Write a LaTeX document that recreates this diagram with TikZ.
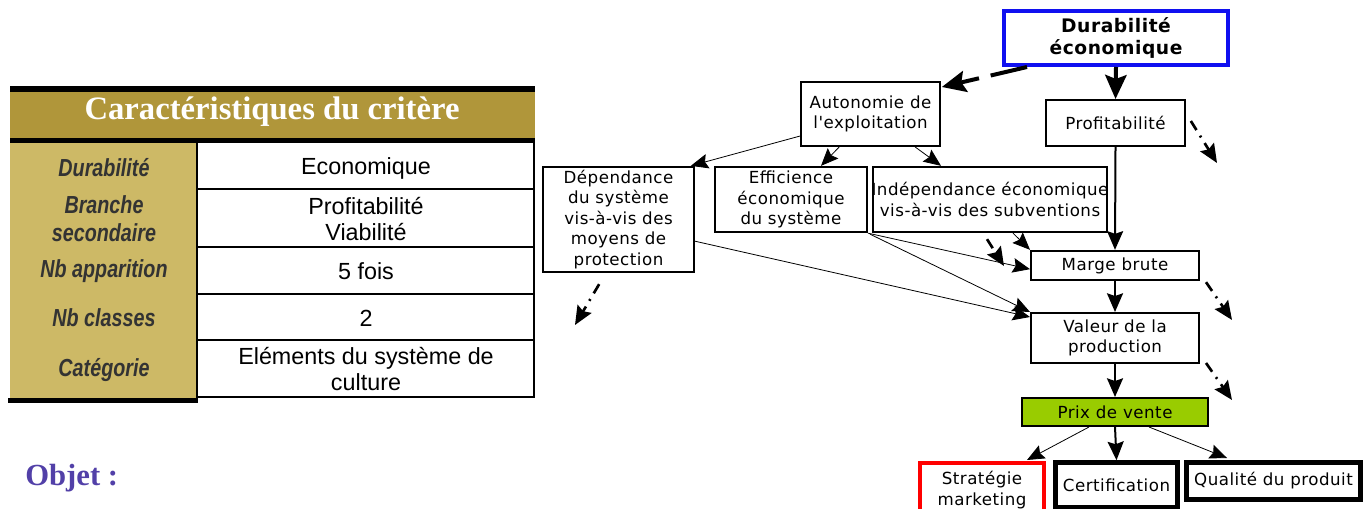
\documentclass[tikz,border=0pt]{standalone}
\usepackage{fontspec}
\setmainfont{Liberation Serif}
\newfontfamily\arialf{Liberation Sans}
\newfontfamily\narrowf[FakeStretch=0.8]{Liberation Sans}
\newfontfamily\dvs[LetterSpace=3]{DejaVu Sans}
\usetikzlibrary{arrows.meta,calc}
\definecolor{goldA}{RGB}{176,150,58}
\definecolor{goldB}{RGB}{205,185,102}
\definecolor{objcol}{RGB}{82,64,168}
\definecolor{boxblue}{RGB}{16,16,240}
\definecolor{prixgreen}{RGB}{153,204,0}
\definecolor{labgray}{RGB}{51,51,51}
\tikzset{
  box/.style={draw, line width=1.5pt, fill=white, inner sep=0pt, align=center,
    font=\dvs\fontsize{12.5}{15.4}\selectfont},
  thinarr/.style={-{Stealth[length=13pt,width=11pt,inset=2pt]}, line width=0.6pt},
  medarr/.style={-{Stealth[length=14pt,width=12pt,inset=2pt]}, line width=1.5pt},
  thickarr/.style={-{Stealth[length=18pt,width=16pt,inset=3pt]}, line width=3pt},
  ddarr/.style={-{Stealth[length=14pt,width=12pt,inset=2pt]}, line width=2pt,
    dash pattern=on 8pt off 5pt on 1.5pt off 5pt},
  lefttxt/.style={text=labgray, align=center, inner sep=0pt,
    font=\narrowf\bfseries\itshape\fontsize{18.5}{21}\selectfont},
  righttxt/.style={text=black, align=center, inner sep=0pt,
    font=\arialf\fontsize{17.5}{20}\selectfont}
}
\begin{document}
\begin{tikzpicture}[x=0.75pt,y=-0.75pt]
\useasboundingbox (0,0) rectangle (1369,509);
% ---------- table ----------
\fill[black] (10,86) rectangle (535,92);
\fill[goldA] (10,92) rectangle (535,138);
\fill[black] (10,138) rectangle (535,143);
\fill[goldB] (10,143) rectangle (197,398);
\fill[white] (197,143) rectangle (535,398);
\foreach \yy in {189,247,294,340,397}{
  \draw[line width=1.3pt] (197,\yy) -- (535,\yy);
}
\draw[line width=1.5pt] (534,143) -- (534,398);
\draw[line width=2pt] (197,143) -- (197,403);
\fill[black] (8,398) rectangle (197,403);
\node[text=white, font=\bfseries\fontsize{24.5}{28}\selectfont, inner sep=0pt] (title) at (272,112) {Caractéristiques du critère};
\node[lefttxt] (l1) at (104,168) {Durabilité};
\node[lefttxt] (l2) at (104,219) {Branche\\secondaire};
\node[lefttxt] (l3) at (104,271) {Nb apparition};
\node[lefttxt] (l4) at (104,318) {Nb classes};
\node[lefttxt] (l5) at (104,370) {Catégorie};
\node[righttxt] (r1) at (366,168) {Economique};
\node[righttxt] (r2) at (366,219) {Profitabilité\\Viabilité};
\node[righttxt] (r3) at (366,271) {5 fois};
\node[righttxt] (r4) at (366,318) {2};
\node[righttxt] (r5) at (366,369) {Eléments du système de\\culture};
\node[text=objcol, font=\bfseries\fontsize{23}{26}\selectfont, inner sep=0pt, anchor=west] (objet) at (25,478) {Objet :};
% ---------- diagram ----------
\node[box, draw=boxblue, line width=3pt, minimum width=168pt, minimum height=40.5pt,
  font=\dvs\bfseries\fontsize{14}{17}\selectfont] (dur) at (1116,38) {Durabilité\\économique};
\node[box, minimum width=104pt, minimum height=48pt] (aut) at (870.5,114) {Autonomie de\\l'exploitation};
\node[box, minimum width=104pt, minimum height=34.5pt] (prof) at (1115.5,123) {Profitabilité};
\node[box, minimum width=113pt, minimum height=79pt] (dep) at (618.5,219.5) {Dépendance\\du système\\vis-à-vis des\\moyens de\\protection};
\node[box, minimum width=114pt, minimum height=49pt] (eff) at (791,199.5) {Efficience\\économique\\du système};
\node[box, minimum width=175.5pt, minimum height=49pt] (ind) at (990,199.5) {\makebox[0pt]{Indépendance économique}\\\makebox[0pt]{vis-à-vis des subventions}};
\node[box, minimum width=126pt, minimum height=22pt] (mar) at (1115,265.5) {Marge brute};
\node[box, minimum width=126pt, minimum height=37.5pt] (val) at (1115,338) {Valeur de la\\production};
\node[box, fill=prixgreen, minimum width=139.5pt, minimum height=21pt] (prix) at (1115,412) {Prix de vente};
\node[box, draw=red, line width=3pt, minimum width=93pt, minimum height=40.5pt] (strat) at (982,490) {Stratégie\\marketing};
\node[box, line width=3.75pt, minimum width=91.5pt, minimum height=33.4pt] (cert) at (1116.5,485) {Certification};
\node[box, line width=3.75pt, minimum width=130.5pt, minimum height=27.75pt] (qual) at (1273.5,481) {Qualité du produit};
% free ends
\coordinate (profout) at (1217,163);
\coordinate (indout) at (1004,266);
\coordinate (depout) at (575,325);
\coordinate (marout) at (1232,320);
\coordinate (valout) at (1232,400);
% connectors
\draw[thickarr, dash pattern=on 28pt off 9pt] ($(dur.south west)+(25,0)$) -- ($(aut.north east)+(1,6)$);
\draw[thickarr] (dur.south) -- (prof.north);
\draw[ddarr] ($(prof.east)+(5,-2)$) -- (profout);
\draw[thinarr] ($(aut.south west)+(0,-11)$) -- ($(dep.north east)+(-4,0)$);
\draw[thinarr] ($(aut.south west)+(39,0)$) -- ($(eff.north west)+(107,0)$);
\draw[thinarr] ($(aut.south west)+(115,0)$) -- ($(ind.north west)+(69,0)$);
\draw[medarr] (prof.south) -- (mar.north);
\draw[thinarr] ($(ind.south west)+(141,0)$) -- (mar.north west);
\draw[ddarr] ($(ind.south west)+(115,6)$) -- (indout);
\draw[thinarr] (eff.south east) -- ($(mar.south west)+(0,-12)$);
\draw[thinarr] ($(eff.south east)+(2,1)$) -- (val.north west);
\draw[thinarr] ($(dep.south east)+(0,-32)$) -- ($(val.north west)+(0,5)$);
\draw[ddarr] ($(dep.south west)+(57,11)$) -- (depout);
\draw[medarr] (mar.south) -- (val.north);
\draw[ddarr] ($(mar.south east)+(6,1)$) -- (marout);
\draw[ddarr] ($(val.south east)+(6,-1)$) -- (valout);
\draw[medarr] (val.south) -- (prix.north);
\draw[thinarr] ($(prix.south west)+(68,0)$) -- ($(strat.north east)+(-19,-1)$);
\draw[medarr] (prix.south) -- (cert.north);
\draw[thinarr] ($(prix.south west)+(128,0)$) -- ($(qual.north west)+(43,-2)$);
\end{tikzpicture}
\end{document}
